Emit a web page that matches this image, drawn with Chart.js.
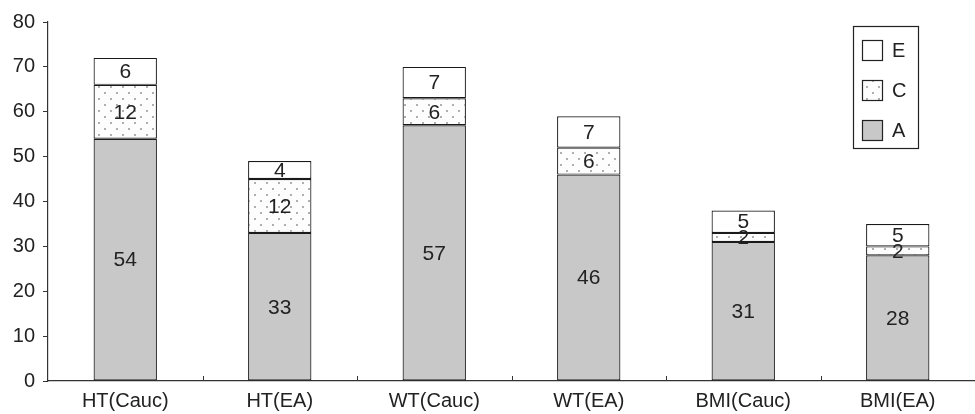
<!DOCTYPE html>
<html>
<head>
<meta charset="utf-8">
<script src="https://cdn.jsdelivr.net/npm/chart.js@4.4.1/dist/chart.umd.min.js"></script>
<style>
  html, body { margin: 0; padding: 0; background: #fff; }
  #wrap { width: 975px; height: 414px; position: relative; }
</style>
</head>
<body>
<div id="wrap"><canvas id="chart"></canvas></div>
<script>
// data
const categories = ['HT(Cauc)', 'HT(EA)', 'WT(Cauc)', 'WT(EA)', 'BMI(Cauc)', 'BMI(EA)'];
const valuesA = [54, 33, 57, 46, 31, 28];
const valuesC = [12, 12, 6, 6, 2, 2];
const valuesE = [6, 4, 7, 7, 5, 5];
const yTicks = [0, 10, 20, 30, 40, 50, 60, 70, 80];

const FONT = "'Liberation Sans', Arial, sans-serif";

// dotted fill for C
function dotPattern() {
    const c = document.createElement('canvas');
    c.width = 12; c.height = 12;
    const g = c.getContext('2d');
    g.fillStyle = '#fdfdfd';
    g.fillRect(0, 0, 12, 12);
    g.fillStyle = '#8a8a8a';
    g.beginPath(); g.arc(3, 3, 0.9, 0, Math.PI * 2); g.fill();
    g.beginPath(); g.arc(9, 9, 0.9, 0, Math.PI * 2); g.fill();
    return g.createPattern(c, 'repeat');
}
const patC = dotPattern();

// labels in the middle of each segment
const segLabels = {
    id: 'segLabels',
    afterDatasetsDraw(chart) {
        const ctx = chart.ctx;
        ctx.save();
        ctx.font = '21px ' + FONT;
        ctx.fillStyle = '#222';
        ctx.textAlign = 'center';
        ctx.textBaseline = 'middle';
        chart.data.datasets.forEach((ds, i) => {
            chart.getDatasetMeta(i).data.forEach((bar, j) => {
                const mid = (bar.y + bar.base) / 2;
                ctx.fillText(ds.data[j], bar.x, mid + 1);
            });
        });
        ctx.restore();
    }
};

// small upward ticks between categories + boxed legend
const extras = {
    id: 'extras',
    afterDraw(chart) {
        const ctx = chart.ctx;
        const x = chart.scales.x;
        const area = chart.chartArea;
        ctx.save();
        ctx.strokeStyle = '#333';
        ctx.lineWidth = 1;
        for (let i = 1; i < categories.length; i++) {
            const px = Math.round((x.getPixelForValue(i - 1) + x.getPixelForValue(i)) / 2) + 0.5;
            ctx.beginPath();
            ctx.moveTo(px, area.bottom);
            ctx.lineTo(px, area.bottom - 5);
            ctx.stroke();
        }
        // legend box
        const bx = area.right - 122, by = area.top + 4, bw = 65, bh = 122;
        ctx.lineWidth = 1.2;
        ctx.strokeStyle = '#222';
        ctx.strokeRect(bx + 0.5, by + 0.5, bw, bh);
        const items = [chart.data.datasets[2], chart.data.datasets[1], chart.data.datasets[0]];
        ctx.font = '20px ' + FONT;
        ctx.textBaseline = 'middle';
        items.forEach((ds, k) => {
            const cy = by + 24 + k * 40;
            ctx.fillStyle = ds.backgroundColor;
            ctx.fillRect(bx + 9, cy - 10, 20, 20);
            ctx.strokeRect(bx + 9.5, cy - 9.5, 20, 20);
            ctx.fillStyle = '#222';
            ctx.fillText(ds.label, bx + 39, cy + 1);
        });
        ctx.restore();
    }
};

new Chart(document.getElementById('chart'), {
    type: 'bar',
    data: {
        labels: categories,
        datasets: [
            { label: 'A', data: valuesA, backgroundColor: '#c8c8c8' },
            { label: 'C', data: valuesC, backgroundColor: patC },
            { label: 'E', data: valuesE, backgroundColor: '#ffffff' }
        ]
    },
    options: {
        responsive: true,
        maintainAspectRatio: false,
        animation: false,
        layout: { padding: { top: 22, right: 0, bottom: 0, left: 0 } },
        datasets: {
            bar: {
                borderColor: '#1a1a1a',
                borderWidth: 1.2,
                borderSkipped: false,
                categoryPercentage: 0.41,
                barPercentage: 1
            }
        },
        plugins: {
            legend: { display: false },
            tooltip: { enabled: false }
        },
        scales: {
            x: {
                stacked: true,
                grid: { display: false, drawTicks: false },
                border: { display: true, color: '#333', width: 1.2 },
                ticks: {
                    color: '#222',
                    padding: 8,
                    font: { size: 20, family: FONT }
                },
                afterFit(s) { s.height = 33; }
            },
            y: {
                stacked: true,
                min: 0,
                max: 80,
                afterBuildTicks(s) { s.ticks = yTicks.map(v => ({ value: v })); },
                grid: { drawOnChartArea: false, drawTicks: true, tickLength: 5, color: '#333' },
                border: { display: true, color: '#333', width: 1.2 },
                ticks: {
                    color: '#222',
                    padding: 8,
                    font: { size: 20, family: FONT }
                },
                afterFit(s) { s.width = 48; }
            }
        }
    },
    plugins: [segLabels, extras]
});
</script>
</body>
</html>
